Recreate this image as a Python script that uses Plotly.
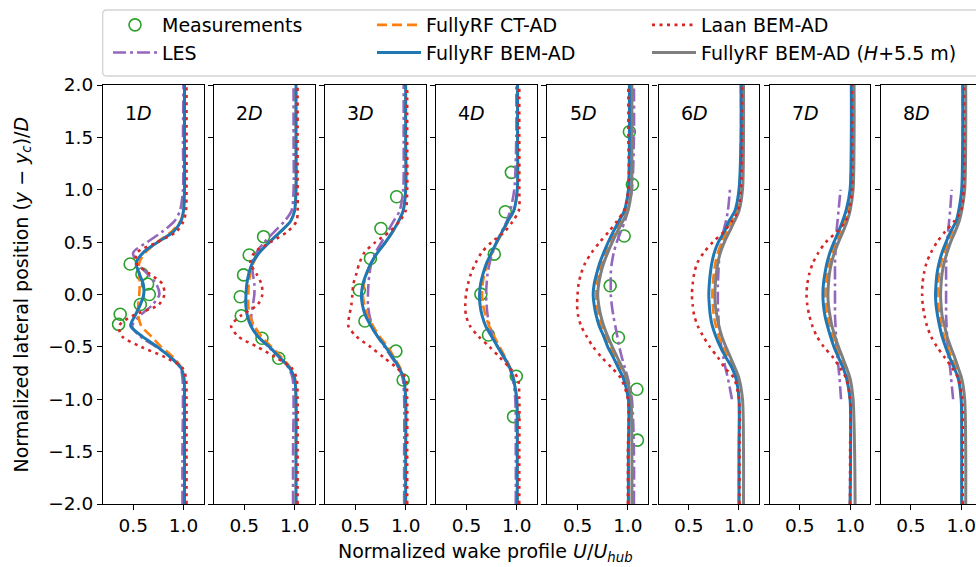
import plotly.graph_objects as go

# ---------------- data ----------------
Y_GRID = [-2.0, -1.5, -1.0, -0.8, -0.7, -0.6, -0.5, -0.4, -0.3, -0.2, -0.1, 0.0,
          0.1, 0.2, 0.3, 0.4, 0.5, 0.6, 0.7, 0.8, 1.0, 1.5, 2.0]

DISTANCES = ["1", "2", "3", "4", "5", "6", "7", "8"]

BEM_AD = [
    [1.01, 1.01, 1.01, 1.005, 0.975, 0.87, 0.74, 0.59, 0.475, 0.52, 0.57, 0.605, 0.60, 0.56, 0.53, 0.60, 0.745, 0.90, 0.975, 1.0, 1.01, 1.01, 1.01],
    [1.014, 1.014, 1.014, 1.0, 0.95, 0.85, 0.75, 0.635, 0.565, 0.53, 0.515, 0.517, 0.525, 0.545, 0.58, 0.65, 0.75, 0.86, 0.96, 1.0, 1.014, 1.014, 1.014],
    [1.0, 1.0, 1.0, 0.98, 0.935, 0.87, 0.80, 0.72, 0.655, 0.60, 0.57, 0.56, 0.575, 0.61, 0.655, 0.72, 0.80, 0.87, 0.93, 0.975, 1.0, 1.0, 1.0],
    [1.005, 1.005, 1.0, 0.965, 0.93, 0.875, 0.81, 0.75, 0.69, 0.655, 0.635, 0.63, 0.64, 0.665, 0.70, 0.75, 0.80, 0.855, 0.91, 0.97, 1.005, 1.008, 1.008],
    [1.005, 1.005, 1.005, 0.955, 0.905, 0.855, 0.80, 0.76, 0.715, 0.685, 0.665, 0.655, 0.665, 0.69, 0.72, 0.76, 0.805, 0.855, 0.91, 0.965, 1.005, 1.015, 1.015],
    [1.0, 1.0, 1.0, 0.97, 0.93, 0.87, 0.815, 0.77, 0.735, 0.715, 0.705, 0.70, 0.705, 0.715, 0.73, 0.755, 0.795, 0.855, 0.90, 0.96, 1.0, 1.02, 1.02],
    [1.0, 1.005, 1.0, 0.965, 0.93, 0.885, 0.84, 0.805, 0.775, 0.75, 0.735, 0.73, 0.735, 0.75, 0.77, 0.80, 0.84, 0.885, 0.925, 0.96, 1.0, 1.012, 1.012],
    [1.005, 1.005, 1.0, 0.97, 0.93, 0.885, 0.845, 0.81, 0.785, 0.765, 0.75, 0.745, 0.75, 0.76, 0.78, 0.81, 0.85, 0.895, 0.95, 0.975, 1.005, 1.015, 1.015],
]

CT_AD = [
    [1.01, 1.01, 1.01, 1.005, 0.98, 0.90, 0.78, 0.68, 0.58, 0.55, 0.55, 0.56, 0.565, 0.56, 0.56, 0.62, 0.74, 0.88, 0.97, 1.0, 1.01, 1.01, 1.01],
    [1.014, 1.014, 1.014, 1.003, 0.96, 0.87, 0.77, 0.67, 0.60, 0.555, 0.54, 0.54, 0.545, 0.56, 0.59, 0.65, 0.75, 0.86, 0.96, 1.0, 1.014, 1.014, 1.014],
    [1.0, 1.0, 1.0, 0.98, 0.945, 0.885, 0.82, 0.74, 0.675, 0.62, 0.59, 0.575, 0.585, 0.615, 0.66, 0.72, 0.80, 0.87, 0.93, 0.975, 1.0, 1.0, 1.0],
    [1.005, 1.005, 1.0, 0.97, 0.935, 0.885, 0.83, 0.775, 0.725, 0.69, 0.665, 0.655, 0.66, 0.68, 0.71, 0.755, 0.805, 0.86, 0.915, 0.97, 1.005, 1.008, 1.008],
    [1.005, 1.005, 1.005, 0.97, 0.925, 0.875, 0.825, 0.78, 0.74, 0.71, 0.69, 0.685, 0.69, 0.71, 0.74, 0.78, 0.82, 0.87, 0.925, 0.975, 1.005, 1.015, 1.015],
    [1.0, 1.0, 1.0, 0.98, 0.945, 0.89, 0.84, 0.80, 0.77, 0.75, 0.74, 0.735, 0.74, 0.75, 0.765, 0.79, 0.83, 0.88, 0.925, 0.975, 1.005, 1.02, 1.02],
    [1.0, 1.005, 1.0, 0.975, 0.945, 0.905, 0.86, 0.825, 0.795, 0.775, 0.76, 0.755, 0.76, 0.775, 0.795, 0.825, 0.86, 0.905, 0.945, 0.975, 1.005, 1.012, 1.012],
    [1.005, 1.005, 1.0, 0.98, 0.945, 0.905, 0.865, 0.83, 0.805, 0.785, 0.77, 0.765, 0.77, 0.78, 0.80, 0.83, 0.865, 0.91, 0.955, 0.985, 1.01, 1.015, 1.015],
]

LES = [
    [0.99, 0.99, 0.995, 0.99, 0.97, 0.88, 0.73, 0.57, 0.49, 0.57, 0.69, 0.76, 0.73, 0.64, 0.54, 0.50, 0.64, 0.79, 0.91, 0.965, 0.995, 0.995, 1.0],
    [0.985, 0.985, 0.99, 0.98, 0.94, 0.85, 0.74, 0.64, 0.58, 0.57, 0.585, 0.60, 0.60, 0.585, 0.58, 0.62, 0.70, 0.80, 0.90, 0.97, 0.99, 0.99, 0.99],
    [0.985, 0.985, 0.985, 0.97, 0.93, 0.86, 0.79, 0.72, 0.67, 0.64, 0.625, 0.625, 0.63, 0.64, 0.66, 0.70, 0.76, 0.82, 0.88, 0.94, 0.975, 0.98, 0.98],
    [0.99, 0.99, 0.985, 0.96, 0.925, 0.87, 0.81, 0.765, 0.73, 0.71, 0.70, 0.695, 0.70, 0.71, 0.73, 0.76, 0.80, 0.85, 0.90, 0.935, 0.975, 0.995, 0.995],
    [1.06, 1.06, 1.04, 1.0, 0.97, 0.94, 0.915, 0.895, 0.875, 0.855, 0.84, 0.83, 0.83, 0.83, 0.84, 0.86, 0.89, 0.93, 0.97, 1.0, 1.04, 1.06, 1.06],
    [None, None, 0.93, 0.89, 0.865, 0.845, 0.825, 0.81, 0.80, 0.795, 0.79, 0.79, 0.79, 0.795, 0.80, 0.81, 0.825, 0.845, 0.87, 0.89, 0.91, None, None],
    [None, None, 0.91, 0.895, 0.885, 0.875, 0.865, 0.86, 0.855, 0.85, 0.85, 0.85, 0.85, 0.85, 0.85, 0.855, 0.86, 0.865, 0.875, 0.885, 0.905, None, None],
    [None, None, 0.92, 0.90, 0.89, 0.875, 0.865, 0.86, 0.855, 0.85, 0.85, 0.85, 0.85, 0.85, 0.85, 0.855, 0.86, 0.87, 0.88, 0.89, 0.905, None, None],
]

LAAN_BEM_AD = [
    [1.03, 1.03, 1.03, 1.025, 0.99, 0.82, 0.58, 0.39, 0.36, 0.50, 0.75, 0.81, 0.79, 0.66, 0.53, 0.54, 0.74, 0.93, 1.0, 1.025, 1.03, 1.03, 1.03],
    [1.03, 1.03, 1.03, 1.02, 0.97, 0.81, 0.63, 0.44, 0.37, 0.47, 0.63, 0.68, 0.67, 0.62, 0.56, 0.60, 0.76, 0.93, 1.02, 1.03, 1.03, 1.03, 1.03],
    [1.015, 1.015, 1.015, 1.0, 0.91, 0.78, 0.65, 0.51, 0.43, 0.44, 0.46, 0.47, 0.48, 0.51, 0.54, 0.59, 0.70, 0.84, 0.94, 1.0, 1.015, 1.015, 1.015],
    [1.025, 1.025, 1.025, 1.01, 0.93, 0.83, 0.73, 0.62, 0.535, 0.495, 0.488, 0.495, 0.515, 0.545, 0.59, 0.65, 0.75, 0.88, 0.96, 1.02, 1.025, 1.025, 1.025],
    [1.0, 1.0, 1.0, 0.93, 0.84, 0.74, 0.655, 0.59, 0.535, 0.505, 0.495, 0.50, 0.51, 0.535, 0.575, 0.64, 0.72, 0.81, 0.89, 0.96, 1.005, 1.005, 1.005],
    [1.005, 1.005, 1.0, 0.95, 0.86, 0.79, 0.71, 0.645, 0.59, 0.555, 0.54, 0.532, 0.54, 0.555, 0.585, 0.65, 0.74, 0.85, 0.93, 0.99, 1.02, 1.03, 1.03],
    [1.0, 1.0, 1.0, 0.96, 0.90, 0.83, 0.74, 0.67, 0.625, 0.595, 0.575, 0.567, 0.575, 0.595, 0.63, 0.685, 0.76, 0.87, 0.955, 0.99, 1.02, 1.02, 1.02],
    [1.015, 1.015, 1.01, 0.97, 0.91, 0.835, 0.76, 0.70, 0.66, 0.635, 0.618, 0.612, 0.615, 0.63, 0.655, 0.70, 0.76, 0.84, 0.93, 1.0, 1.025, 1.03, 1.03],
]

# FullyRF BEM-AD at H+5.5 m (only 5D-8D)
BEM_AD_H55 = [
    None, None, None, None,
    [1.04, 1.04, 1.03, 0.99, 0.945, 0.895, 0.845, 0.80, 0.76, 0.73, 0.71, 0.70, 0.71, 0.73, 0.76, 0.80, 0.845, 0.895, 0.95, 1.0, 1.035, 1.04, 1.04],
    [1.045, 1.045, 1.035, 1.0, 0.96, 0.915, 0.87, 0.83, 0.80, 0.78, 0.765, 0.76, 0.765, 0.775, 0.79, 0.815, 0.855, 0.905, 0.955, 1.0, 1.035, 1.045, 1.045],
    [1.05, 1.045, 1.03, 1.0, 0.965, 0.925, 0.885, 0.85, 0.82, 0.80, 0.785, 0.78, 0.785, 0.795, 0.815, 0.845, 0.885, 0.93, 0.97, 1.0, 1.03, 1.04, 1.04],
    [1.045, 1.045, 1.035, 1.005, 0.97, 0.935, 0.895, 0.86, 0.835, 0.81, 0.80, 0.795, 0.80, 0.81, 0.83, 0.86, 0.895, 0.94, 0.98, 1.005, 1.035, 1.045, 1.045],
]

MEAS_U = [
    [0.47, 0.587, 0.643, 0.66, 0.571, 0.371, 0.355],
    [0.692, 0.549, 0.493, 0.46, 0.47, 0.676, 0.842],
    [0.91, 0.754, 0.65, 0.539, 0.595, 0.903, 0.975],
    [0.946, 0.886, 0.776, 0.643, 0.719, 0.995, 0.968],
    [1.015, 1.045, 0.963, 0.824, 0.906, 1.089, 1.095],
    [], [], [],
]
MEAS_Y = [
    [0.291, 0.195, 0.1, 0.0, -0.095, -0.189, -0.285],
    [0.552, 0.377, 0.187, -0.021, -0.203, -0.418, -0.609],
    [0.933, 0.63, 0.344, 0.043, -0.253, -0.54, -0.816],
    [1.166, 0.79, 0.385, 0.004, -0.387, -0.78, -1.166],
    [1.554, 1.05, 0.558, 0.083, -0.41, -0.905, -1.39],
    [], [], [],
]

X_TICKS = [0.5, 1.0]
Y_TICKS = [-2.0, -1.5, -1.0, -0.5, 0.0, 0.5, 1.0, 1.5, 2.0]

# ---------------- styles ----------------
FONT = "DejaVu Sans"
C_BLUE, C_ORANGE, C_GREEN = "#1f77b4", "#ff7f0e", "#2ca02c"
C_RED, C_PURPLE, C_GRAY = "#d62728", "#9467bd", "#7f7f7f"

W, H = 976, 567
ML, MT, MB = 103, 85, 63
PLOT_W = W - ML
PH = H - MT - MB
PITCH, PW = 111.1, 100.6   # pixels per panel pitch / panel width (1.0 data unit)


def px_to_paper_x(px):
    return (px - ML) / PLOT_W


def px_to_paper_y(py):
    return 1 + (MT - py) / PH


fig = go.Figure()

# name, data, style, legend column, rank within column
series = [
    ("Measurements", None, None, "legend", 1),
    ("LES", LES, dict(color=C_PURPLE, width=2.6, dash="13px,4px,3px,4px"), "legend", 2),
    ("FullyRF CT-AD", CT_AD, dict(color=C_ORANGE, width=2.6, dash="10px,5px"), "legend2", 1),
    ("FullyRF BEM-AD (<i>H</i>+5.5 m)", BEM_AD_H55, dict(color=C_GRAY, width=3), "legend3", 2),
    ("FullyRF BEM-AD", BEM_AD, dict(color=C_BLUE, width=3), "legend2", 2),
    ("Laan BEM-AD", LAAN_BEM_AD, dict(color=C_RED, width=2.6, dash="3px,4.5px"), "legend3", 1),
]

shown = set()
for i in range(8):
    k = "" if i == 0 else str(i + 1)
    for name, data, style, leg, rank in series:
        if name == "Measurements":
            if not MEAS_U[i]:
                continue
            tr = go.Scatter(
                x=MEAS_U[i], y=MEAS_Y[i], mode="markers",
                marker=dict(symbol="circle-open", size=12, color=C_GREEN,
                            line=dict(width=1.6, color=C_GREEN)),
            )
        else:
            if data[i] is None:
                continue
            tr = go.Scatter(
                x=data[i], y=Y_GRID, mode="lines",
                line=dict(shape="spline", smoothing=0.8, **style),
            )
        tr.update(name=name, legendgroup=name, legend=leg, legendrank=rank,
                  showlegend=name not in shown, xaxis="x" + k, yaxis="y" + k,
                  hoverinfo="skip")
        shown.add(name)
        fig.add_trace(tr)

axis_common = dict(showline=True, linecolor="black", linewidth=1.2, ticks="outside",
                   ticklen=5, tickwidth=1.2, tickcolor="black", showgrid=False,
                   zeroline=False, tickfont=dict(family=FONT, size=18.5, color="black"))

annotations = []
for i in range(8):
    k = "" if i == 0 else str(i + 1)
    x0 = PITCH * i
    x1 = min(x0 + PW, PLOT_W)
    xmax = 0.2 + (x1 - x0) / PW
    fig.layout["xaxis" + k] = dict(
        domain=[x0 / PLOT_W, x1 / PLOT_W], range=[0.2, xmax], anchor="y" + k,
        tickvals=X_TICKS, tickformat=".1f", mirror=True, **axis_common)
    fig.layout["yaxis" + k] = dict(
        domain=[0, 1], range=[-2.0, 2.0], anchor="x" + k, tickvals=Y_TICKS,
        tickformat=".1f", showticklabels=(i == 0), mirror=(i < 7), **axis_common)
    annotations.append(dict(
        x=0.4, y=1.73, xref="x" + k, yref="y" + k, xanchor="left", yanchor="middle",
        text=DISTANCES[i] + "<i>D</i>", showarrow=False,
        font=dict(family=FONT, size=19, color="black")))

annotations.append(dict(
    x=px_to_paper_x(485), y=px_to_paper_y(552), xref="paper", yref="paper",
    xanchor="center", yanchor="middle", showarrow=False,
    text="Normalized wake profile <i>U</i>/<i>U</i><sub><i>hub</i></sub>",
    font=dict(family=FONT, size=19, color="black")))
annotations.append(dict(
    x=px_to_paper_x(22), y=0.5, xref="paper", yref="paper", textangle=-90,
    xanchor="center", yanchor="middle", showarrow=False,
    text="Normalized lateral position (<i>y</i> \u2212 <i>y</i><sub><i>c</i></sub>)/<i>D</i>",
    font=dict(family=FONT, size=19, color="black")))

# legend frame (extends past the right edge, as in the reference)
fx0, fx1 = px_to_paper_x(102.7), 1.08
fy0, fy1 = px_to_paper_y(76), px_to_paper_y(10)
rx, ry = 4 / PLOT_W, 4 / PH
frame_path = (f"M{fx1},{fy1} L{fx0 + rx},{fy1} Q{fx0},{fy1} {fx0},{fy1 - ry} "
              f"L{fx0},{fy0 + ry} Q{fx0},{fy0} {fx0 + rx},{fy0} L{fx1},{fy0}")

legend_common = dict(orientation="v", yanchor="top", xanchor="left", itemwidth=44,
                     font=dict(family=FONT, size=19, color="black"),
                     bgcolor="rgba(0,0,0,0)", borderwidth=0, traceorder="normal",
                     tracegroupgap=0, y=px_to_paper_y(6))

fig.update_layout(
    width=W, height=H,
    margin=dict(l=ML, r=0, t=MT, b=MB, pad=0),
    paper_bgcolor="white", plot_bgcolor="white",
    font=dict(family=FONT, size=19, color="black"),
    annotations=annotations,
    shapes=[dict(type="path", path=frame_path, xref="paper", yref="paper",
                 line=dict(color="#d3d3d3", width=1.3))],
    legend=dict(x=px_to_paper_x(108), **legend_common),
    legend2=dict(x=px_to_paper_x(372), **legend_common),
    legend3=dict(x=px_to_paper_x(647), **legend_common),
    showlegend=True,
)

fig.write_html("out.html")
